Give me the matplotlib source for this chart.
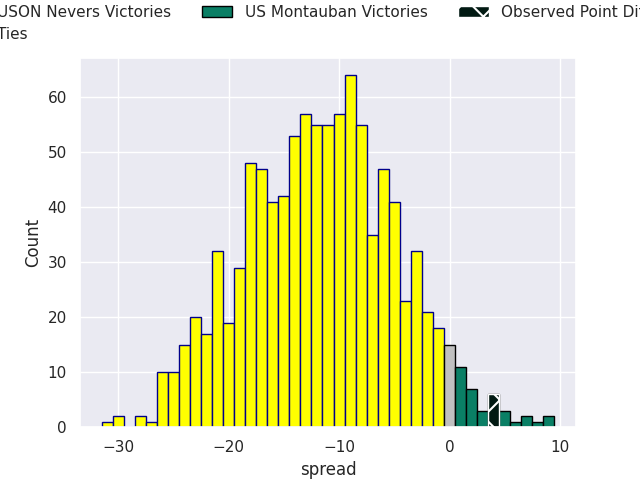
import numpy as np
import matplotlib
matplotlib.use("Agg")
from matplotlib import pyplot as plt
from matplotlib.ticker import MultipleLocator
import seaborn as sns

sns.set_theme(style="darkgrid")
plt.rcParams["hatch.linewidth"] = 1.5

# spread values (bin centres) and how many simulations landed on each
spread = np.arange(-31, 10)
counts = [1, 2, 0, 2, 1, 10, 10, 15, 20, 17, 32, 19, 29, 48, 47, 41, 42, 53, 57, 55,
          55, 57, 64, 55, 35, 47, 41, 23, 32, 21, 18,
          15,
          11, 7, 3, 6, 3, 1, 2, 1, 2]
observed = 4

labels = ["USON Nevers Victories", "Ties", "US Montauban Victories", "Observed Point Difference"]

spread = np.array(spread)
counts = np.array(counts)

fig, ax = plt.subplots(figsize=(6.4, 4.8), dpi=100)

neg = spread < 0
tie = spread == 0
pos = spread > 0

h1 = ax.bar(spread[neg], counts[neg], width=1, color="yellow", edgecolor="darkblue", linewidth=1)
h2 = ax.bar(spread[tie], counts[tie], width=1, color="silver", edgecolor="black", linewidth=1)
h3 = ax.bar(spread[pos], counts[pos], width=1, color="#0a7f65", edgecolor="black", linewidth=1)
obs_count = counts[spread == observed]
# observed result drawn on top with a hatch
h4 = ax.bar([observed], obs_count, width=1, color="#021a13", hatch="x", edgecolor="white", linewidth=1)

ax.set_xlim(-33.45, 11.45)
ax.set_ylim(0, 67.2)
ax.xaxis.set_major_locator(MultipleLocator(10))
ax.set_xlabel("spread")
ax.set_ylabel("Count")

ax.legend([h1, h2, h3, h4], labels, ncol=3, loc="upper center",
          bbox_to_anchor=(0.5, 1.18), frameon=False, fontsize=11)

fig.savefig("out.png")
